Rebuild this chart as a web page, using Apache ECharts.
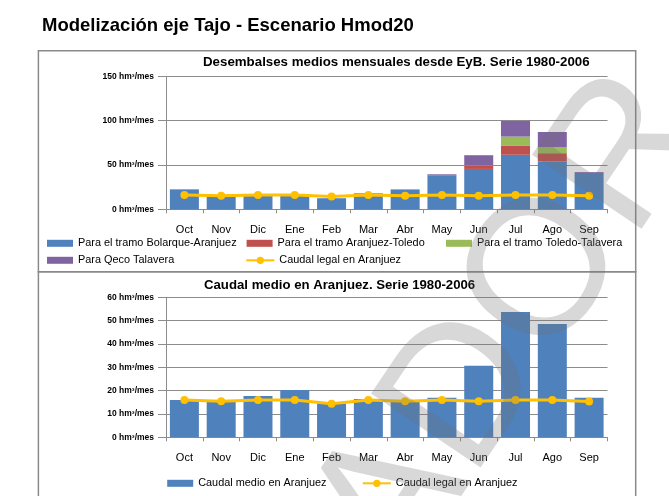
<!DOCTYPE html>
<html>
<head>
<meta charset="utf-8">
<title>Modelización eje Tajo - Escenario Hmod20</title>
<script src="https://cdn.jsdelivr.net/npm/echarts@6/dist/echarts.min.js"></script>
<style>
  html, body { margin: 0; padding: 0; background: #fff; }
  #chart { width: 669px; height: 496px; }
</style>
</head>
<body>
<div id="chart"></div>
<script>
// meses del año hidrológico
const months = ['Oct', 'Nov', 'Dic', 'Ene', 'Feb', 'Mar', 'Abr', 'May', 'Jun', 'Jul', 'Ago', 'Sep'];

// desembalses medios mensuales desde EyB (hm³/mes)
const bolarqueAranjuez = [22.5, 14.5, 15, 15, 12.5, 17.3, 22, 38, 45.5, 61.5, 54.3, 40.8];
const aranjuezToledo = [0, 0, 0, 0, 0, 0, 0, 0, 3.5, 10, 9, 0];
const toledoTalavera = [0, 0, 0, 0, 0, 0, 0, 0, 0.5, 10.5, 6.5, 0];
const qecoTalavera = [0, 0, 0, 0, 0, 0.7, 0.5, 1.5, 11.5, 17.7, 17.4, 1.1];

// caudales en Aranjuez (hm³/mes)
const caudalLegal = [16, 15.4, 16, 16, 14.4, 16, 15.4, 16, 15.4, 16, 16, 15.3];
const caudalMedio = [16, 15.4, 17.7, 20.3, 14.5, 16.4, 15.6, 16.9, 30.7, 53.7, 48.6, 17];

const unit = ' hm³/mes';
// no hay Arial Narrow: se usa Liberation Sans a menor cuerpo para conservar los anchos
const sans = "'Liberation Sans', Arial, sans-serif";

const BLUE = '#4F81BD', RED = '#C0504D', GREEN = '#9BBB59', PURPLE = '#8064A2', YELLOW = '#FFC000';
const GRID = '#8c8c8c';

const chart = echarts.init(document.getElementById('chart'));

function xAxisFor(gridIndex) {
  return {
    type: 'category',
    gridIndex: gridIndex,
    data: months,
    axisLine: { lineStyle: { color: GRID, width: 1 } },
    axisTick: { show: true, length: 4, lineStyle: { color: GRID } },
    axisLabel: { color: '#000', fontFamily: sans, fontSize: 11, margin: 15 }
  };
}

function yAxisFor(gridIndex, max, interval) {
  return {
    type: 'value',
    gridIndex: gridIndex,
    min: 0,
    max: max,
    interval: interval,
    axisLine: { show: true, lineStyle: { color: GRID, width: 1 } },
    axisTick: { show: true, length: 8, lineStyle: { color: GRID } },
    splitLine: { show: true, lineStyle: { color: GRID, width: 1 } },
    axisLabel: {
      color: '#000', fontFamily: sans, fontSize: 8.5, fontWeight: 'bold', margin: 12,
      formatter: v => v + unit
    }
  };
}

function legendItem(name, left, cy, isLine) {
  return {
    data: [name],
    left: left,
    top: cy - 7,
    padding: 0,
    itemWidth: isLine ? 28 : 26,
    itemHeight: isLine ? 9 : 7,
    icon: isLine ? undefined : 'rect',
    selectedMode: false,
    textStyle: { color: '#000', fontFamily: sans, fontSize: 10.9, lineHeight: 14 }
  };
}

function barSeries(name, data, color, xIdx) {
  return {
    name: name,
    type: 'bar',
    stack: xIdx === 0 ? 'desembalses' : undefined,
    xAxisIndex: xIdx,
    yAxisIndex: xIdx,
    barWidth: 29,
    itemStyle: { color: color },
    data: data
  };
}

function lineSeries(xIdx) {
  return {
    name: 'Caudal legal en Aranjuez',
    type: 'line',
    xAxisIndex: xIdx,
    yAxisIndex: xIdx,
    z: 5,
    symbol: 'circle',
    symbolSize: 8,
    lineStyle: { color: YELLOW, width: 3 },
    itemStyle: { color: YELLOW },
    data: caudalLegal
  };
}

const option = {
  backgroundColor: '#fff',
  animation: false,
  title: [
    {
      text: 'Modelización eje Tajo - Escenario Hmod20',
      left: 42, top: 17, padding: 0,
      textStyle: { fontFamily: sans, fontSize: 18.5, fontWeight: 'bold', color: '#000', lineHeight: 18 }
    },
    {
      text: 'Desembalses medios mensuales desde EyB. Serie 1980-2006',
      left: 203, top: 56, padding: 0,
      textStyle: { fontFamily: sans, fontSize: 13.3, fontWeight: 'bold', color: '#000', lineHeight: 13 }
    },
    {
      text: 'Caudal medio en Aranjuez. Serie 1980-2006',
      left: 204, top: 278.5, padding: 0,
      textStyle: { fontFamily: sans, fontSize: 13.2, fontWeight: 'bold', color: '#000', lineHeight: 13 }
    }
  ],
  legend: [
    legendItem('Para el tramo Bolarque-Aranjuez', 47, 243.3),
    legendItem('Para el tramo Aranjuez-Toledo', 246.6, 243.3),
    legendItem('Para el tramo Toledo-Talavera', 446, 243.3),
    legendItem('Para Qeco Talavera', 47, 260.3),
    legendItem('Caudal legal en Aranjuez', 245.3, 260.3, true),
    legendItem('Caudal medio en Aranjuez', 167.2, 483.3),
    legendItem('Caudal legal en Aranjuez', 361.8, 483.3, true)
  ],
  grid: [
    { left: 166, width: 441.5, top: 76.3, height: 133 },
    { left: 166, width: 441.5, top: 297.3, height: 140 }
  ],
  xAxis: [xAxisFor(0), xAxisFor(1)],
  yAxis: [yAxisFor(0, 150, 50), yAxisFor(1, 60, 10)],
  series: [
    barSeries('Para el tramo Bolarque-Aranjuez', bolarqueAranjuez, BLUE, 0),
    barSeries('Para el tramo Aranjuez-Toledo', aranjuezToledo, RED, 0),
    barSeries('Para el tramo Toledo-Talavera', toledoTalavera, GREEN, 0),
    barSeries('Para Qeco Talavera', qecoTalavera, PURPLE, 0),
    lineSeries(0),
    barSeries('Caudal medio en Aranjuez', caudalMedio, BLUE, 1),
    lineSeries(1)
  ],
  graphic: [
    // marcos de los dos gráficos
    {
      type: 'rect', z: -1, silent: true,
      shape: { x: 38.4, y: 50.7, width: 597.3, height: 221 },
      style: { fill: 'none', stroke: '#8a8a8a', lineWidth: 1.5 }
    },
    {
      type: 'rect', z: -1, silent: true,
      shape: { x: 38.4, y: 271.7, width: 597.3, height: 240 },
      style: { fill: 'none', stroke: '#8a8a8a', lineWidth: 1.5 }
    },
    // marca de agua
    {
      type: 'text', z: 100, silent: true,
      x: 46, y: 1017,
      rotation: 56 * Math.PI / 180,
      style: {
        text: 'BORRADOR',
        font: 'normal 192px ' + sans,
        fill: 'rgba(110,110,110,0.27)',
        align: 'left',
        verticalAlign: 'middle'
      }
    }
  ]
};

chart.setOption(option);
</script>
</body>
</html>
